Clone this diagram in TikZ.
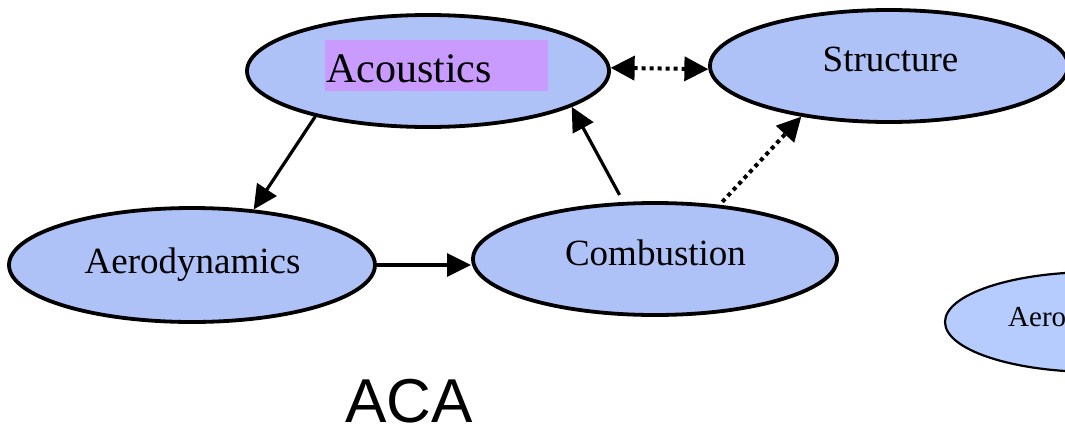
\documentclass[tikz,border=0pt]{standalone}
\usepackage{fontspec}
\setmainfont{Liberation Serif}
\newfontfamily\arialfont{Liberation Sans}
\usetikzlibrary{shapes.geometric,arrows.meta}
\definecolor{bubble}{RGB}{174,194,247}
\definecolor{bubblelight}{RGB}{182,204,255}
\definecolor{acpurple}{RGB}{202,155,255}
\tikzset{
  bub/.style={ellipse, draw=black, line width=3.8pt, fill=bubble, inner sep=0pt},
  lbl/.style={font=\fontsize{37}{40}\selectfont, anchor=base, inner sep=0pt},
  arr/.style={line width=3.2pt, -{Triangle[length=24pt,width=23pt]}},
  darr/.style={line width=4pt, dash pattern=on 4pt off 4pt, -{Triangle[length=24pt,width=24pt]}},
}
\begin{document}
\begin{tikzpicture}[x=1pt,y=-1pt]
\useasboundingbox (0,0) rectangle (1065,426);
\clip (0,0) rectangle (1065,426);
\fill[white] (0,0) rectangle (1065,426);
% ellipses
\node[bub, minimum width=362pt, minimum height=112pt] (acou) at (428,71) {};
\node[bub, minimum width=358pt, minimum height=112pt] (str) at (889,66) {};
\node[bub, minimum width=366pt, minimum height=114pt] (aero) at (192,265) {};
\node[bub, minimum width=364pt, minimum height=112pt] (comb) at (655,259) {};
\node[ellipse, draw=black, line width=2.2pt, fill=bubblelight, inner sep=0pt,
      minimum width=300pt, minimum height=100pt] (aero2) at (1095,322) {};
% labels
\node[fill=acpurple, inner sep=0pt, minimum width=223pt, minimum height=51pt] (acbg) at (436.5,65.5) {};
\node[font=\fontsize{42}{45}\selectfont, anchor=base west, inner sep=0pt] (acl) at (326,82) {Acoustics};
\node[lbl] (strl) at (890.5,71) {Structure};
\node[lbl] (aerol) at (192.5,273) {Aerodynamics};
\node[lbl] (combl) at (655.5,265) {Combustion};
\node[font=\fontsize{29}{32}\selectfont, anchor=base west, inner sep=0pt] (aero2l) at (1008,326) {Aero};
\node[font=\arialfont\fontsize{62}{66}\selectfont, anchor=base, inner sep=0pt] (aca) at (409,422) {ACA};
% connectors
\draw[arr] (acou.-158) -- (aero.42);
\draw[arr] (aero.east) -- (aero.east -| comb.west);
\draw[arr, shorten <=8pt] (comb.119) -- (acou.-14);
\draw[darr, shorten <=4pt] (comb.40) -- (str.-150);
\draw[darr, {Triangle[length=24pt,width=24pt]}-{Triangle[length=24pt,width=24pt]}] (acou.1) -- (str.181);
\end{tikzpicture}
\end{document}
